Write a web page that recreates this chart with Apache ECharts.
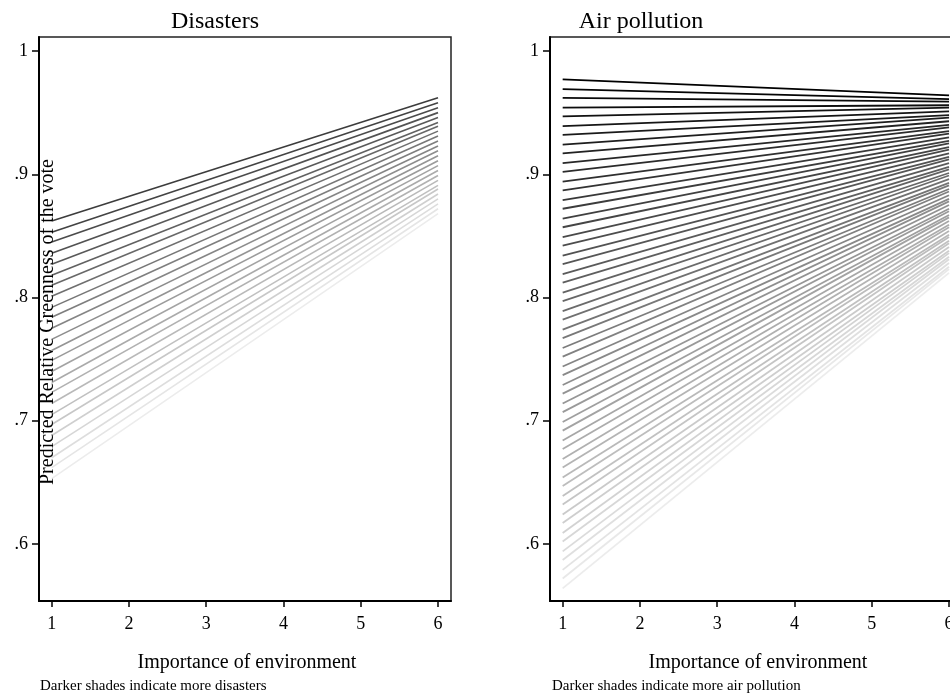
<!DOCTYPE html>
<html><head><meta charset="utf-8">
<script src="https://cdn.jsdelivr.net/npm/echarts@6/dist/echarts.min.js"></script>
<style>html,body{margin:0;padding:0;background:#fff;overflow:hidden}#c{width:950px;height:698px}</style>
</head><body><div id="c"></div>
<script>
// ---- data ----
const xTicks = [1, 2, 3, 4, 5, 6];
const yTicks = [0.6, 0.7, 0.8, 0.9, 1];
const panelTitles = ['Disasters', 'Air pollution'];
const xAxisTitle = 'Importance of environment';
const yAxisTitle = 'Predicted Relative Greenness of the vote';
const notes = ['Darker shades indicate more disasters', 'Darker shades indicate more air pollution'];

// predicted values at importance = 1 and importance = 6, darkest (most) first
const disastersAt1 = [0.862, 0.853, 0.845, 0.836, 0.827, 0.818, 0.810, 0.801, 0.792, 0.784, 0.775, 0.766, 0.757,
  0.749, 0.740, 0.731, 0.723, 0.714, 0.705, 0.697, 0.688, 0.679, 0.670, 0.662, 0.653];
const disastersAt6 = [0.962, 0.958, 0.954, 0.950, 0.946, 0.942, 0.939, 0.935, 0.931, 0.927, 0.923, 0.919, 0.915,
  0.911, 0.907, 0.903, 0.899, 0.895, 0.891, 0.888, 0.884, 0.880, 0.876, 0.872, 0.868];
const pollutionAt1 = [0.977, 0.969, 0.962, 0.954, 0.947, 0.939, 0.932, 0.924, 0.917, 0.909, 0.902, 0.894, 0.887,
  0.879, 0.872, 0.864, 0.857, 0.849, 0.842, 0.834, 0.827, 0.819, 0.812, 0.804, 0.797, 0.789, 0.782, 0.774,
  0.767, 0.759, 0.752, 0.744, 0.737, 0.729, 0.722, 0.714, 0.707, 0.699, 0.692, 0.684, 0.677, 0.669, 0.662,
  0.654, 0.647, 0.639, 0.632, 0.624, 0.617, 0.609, 0.602, 0.594, 0.587, 0.579, 0.572, 0.564];
const pollutionAt6 = [0.964, 0.961, 0.959, 0.956, 0.954, 0.951, 0.948, 0.946, 0.943, 0.940, 0.938, 0.935, 0.933,
  0.930, 0.927, 0.925, 0.922, 0.920, 0.917, 0.914, 0.912, 0.909, 0.906, 0.904, 0.901, 0.899, 0.896, 0.893,
  0.891, 0.888, 0.886, 0.883, 0.880, 0.878, 0.875, 0.872, 0.870, 0.867, 0.865, 0.862, 0.859, 0.857, 0.854,
  0.851, 0.849, 0.846, 0.844, 0.841, 0.838, 0.836, 0.833, 0.831, 0.828, 0.825, 0.823, 0.820];

// ---- chart ----
const FONT = "'Liberation Serif','Times New Roman',serif";
const chart = echarts.init(document.getElementById('c'), null, {renderer: 'canvas'});

function gray(i, n, dark, light) {
  const t = n > 1 ? i / (n - 1) : 0;
  const v = Math.round(dark + (light - dark) * t);
  return 'rgb(' + v + ',' + v + ',' + v + ')';
}

function makeSeries(at1, at6, idx, dark, light, width) {
  const out = [];
  for (let i = at1.length - 1; i >= 0; i--) {
    out.push({
      type: 'line', xAxisIndex: idx, yAxisIndex: idx,
      data: [[xTicks[0], at1[i]], [xTicks[xTicks.length - 1], at6[i]]],
      symbol: 'none', silent: true, animation: false, clip: true,
      lineStyle: {color: gray(i, at1.length, dark, light), width: width}
    });
  }
  return out;
}

function xAx(idx) {
  return {
    gridIndex: idx, type: 'value', min: 0.836, max: 6.168,
    axisLine: {show: true, onZero: false, lineStyle: {color: '#000', width: 2}},
    axisTick: {show: true, length: 6, customValues: xTicks, lineStyle: {color: '#000', width: 1.5}},
    axisLabel: {customValues: xTicks, fontFamily: FONT, fontSize: 18, color: '#000', margin: 14},
    splitLine: {show: false}
  };
}
function yAx(idx) {
  return {
    gridIndex: idx, type: 'value', min: 0.55375, max: 1.01136,
    axisLine: {show: true, onZero: false, lineStyle: {color: '#000', width: 2}},
    axisTick: {show: true, length: 7, customValues: yTicks, lineStyle: {color: '#000', width: 1.5}},
    axisLabel: {
      customValues: yTicks, fontFamily: FONT, fontSize: 18, color: '#000', margin: 11,
      formatter: function (v) { return v >= 0.999 ? '1' : Number(v).toFixed(1).replace(/^0/, ''); }
    },
    splitLine: {show: false}
  };
}

function grid(left) {
  return {left: left, top: 37, height: 564, width: 412, show: true, borderColor: '#222', borderWidth: 1.5,
    containLabel: false, outerBoundsMode: 'none'};
}

const option = {
  backgroundColor: '#fff',
  animation: false,
  grid: [grid(39), grid(550)],
  xAxis: [xAx(0), xAx(1)],
  yAxis: [yAx(0), yAx(1)],
  series: [].concat(
    makeSeries(disastersAt1, disastersAt6, 0, 60, 236, 1.6),
    makeSeries(pollutionAt1, pollutionAt6, 1, 0, 236, 1.8)
  ),
  graphic: [
    {type: 'text', x: 215, y: 22, style: {text: panelTitles[0], font: '24px ' + FONT, fill: '#000', align: 'center', verticalAlign: 'middle'}},
    {type: 'text', x: 641, y: 22, style: {text: panelTitles[1], font: '24px ' + FONT, fill: '#000', align: 'center', verticalAlign: 'middle'}},
    {type: 'text', x: 247, y: 663, style: {text: xAxisTitle, font: '20px ' + FONT, fill: '#000', align: 'center', verticalAlign: 'middle'}},
    {type: 'text', x: 758, y: 663, style: {text: xAxisTitle, font: '20px ' + FONT, fill: '#000', align: 'center', verticalAlign: 'middle'}},
    {type: 'text', x: 40, y: 686, style: {text: notes[0], font: '15px ' + FONT, fill: '#000', align: 'left', verticalAlign: 'middle'}},
    {type: 'text', x: 552, y: 686, style: {text: notes[1], font: '15px ' + FONT, fill: '#000', align: 'left', verticalAlign: 'middle'}},
    {type: 'text', x: 48, y: 322, rotation: Math.PI / 2, style: {text: yAxisTitle, font: '20px ' + FONT, fill: '#000', align: 'center', verticalAlign: 'middle'}, z: 100}
  ]
};
chart.setOption(option);
</script>
</body></html>
